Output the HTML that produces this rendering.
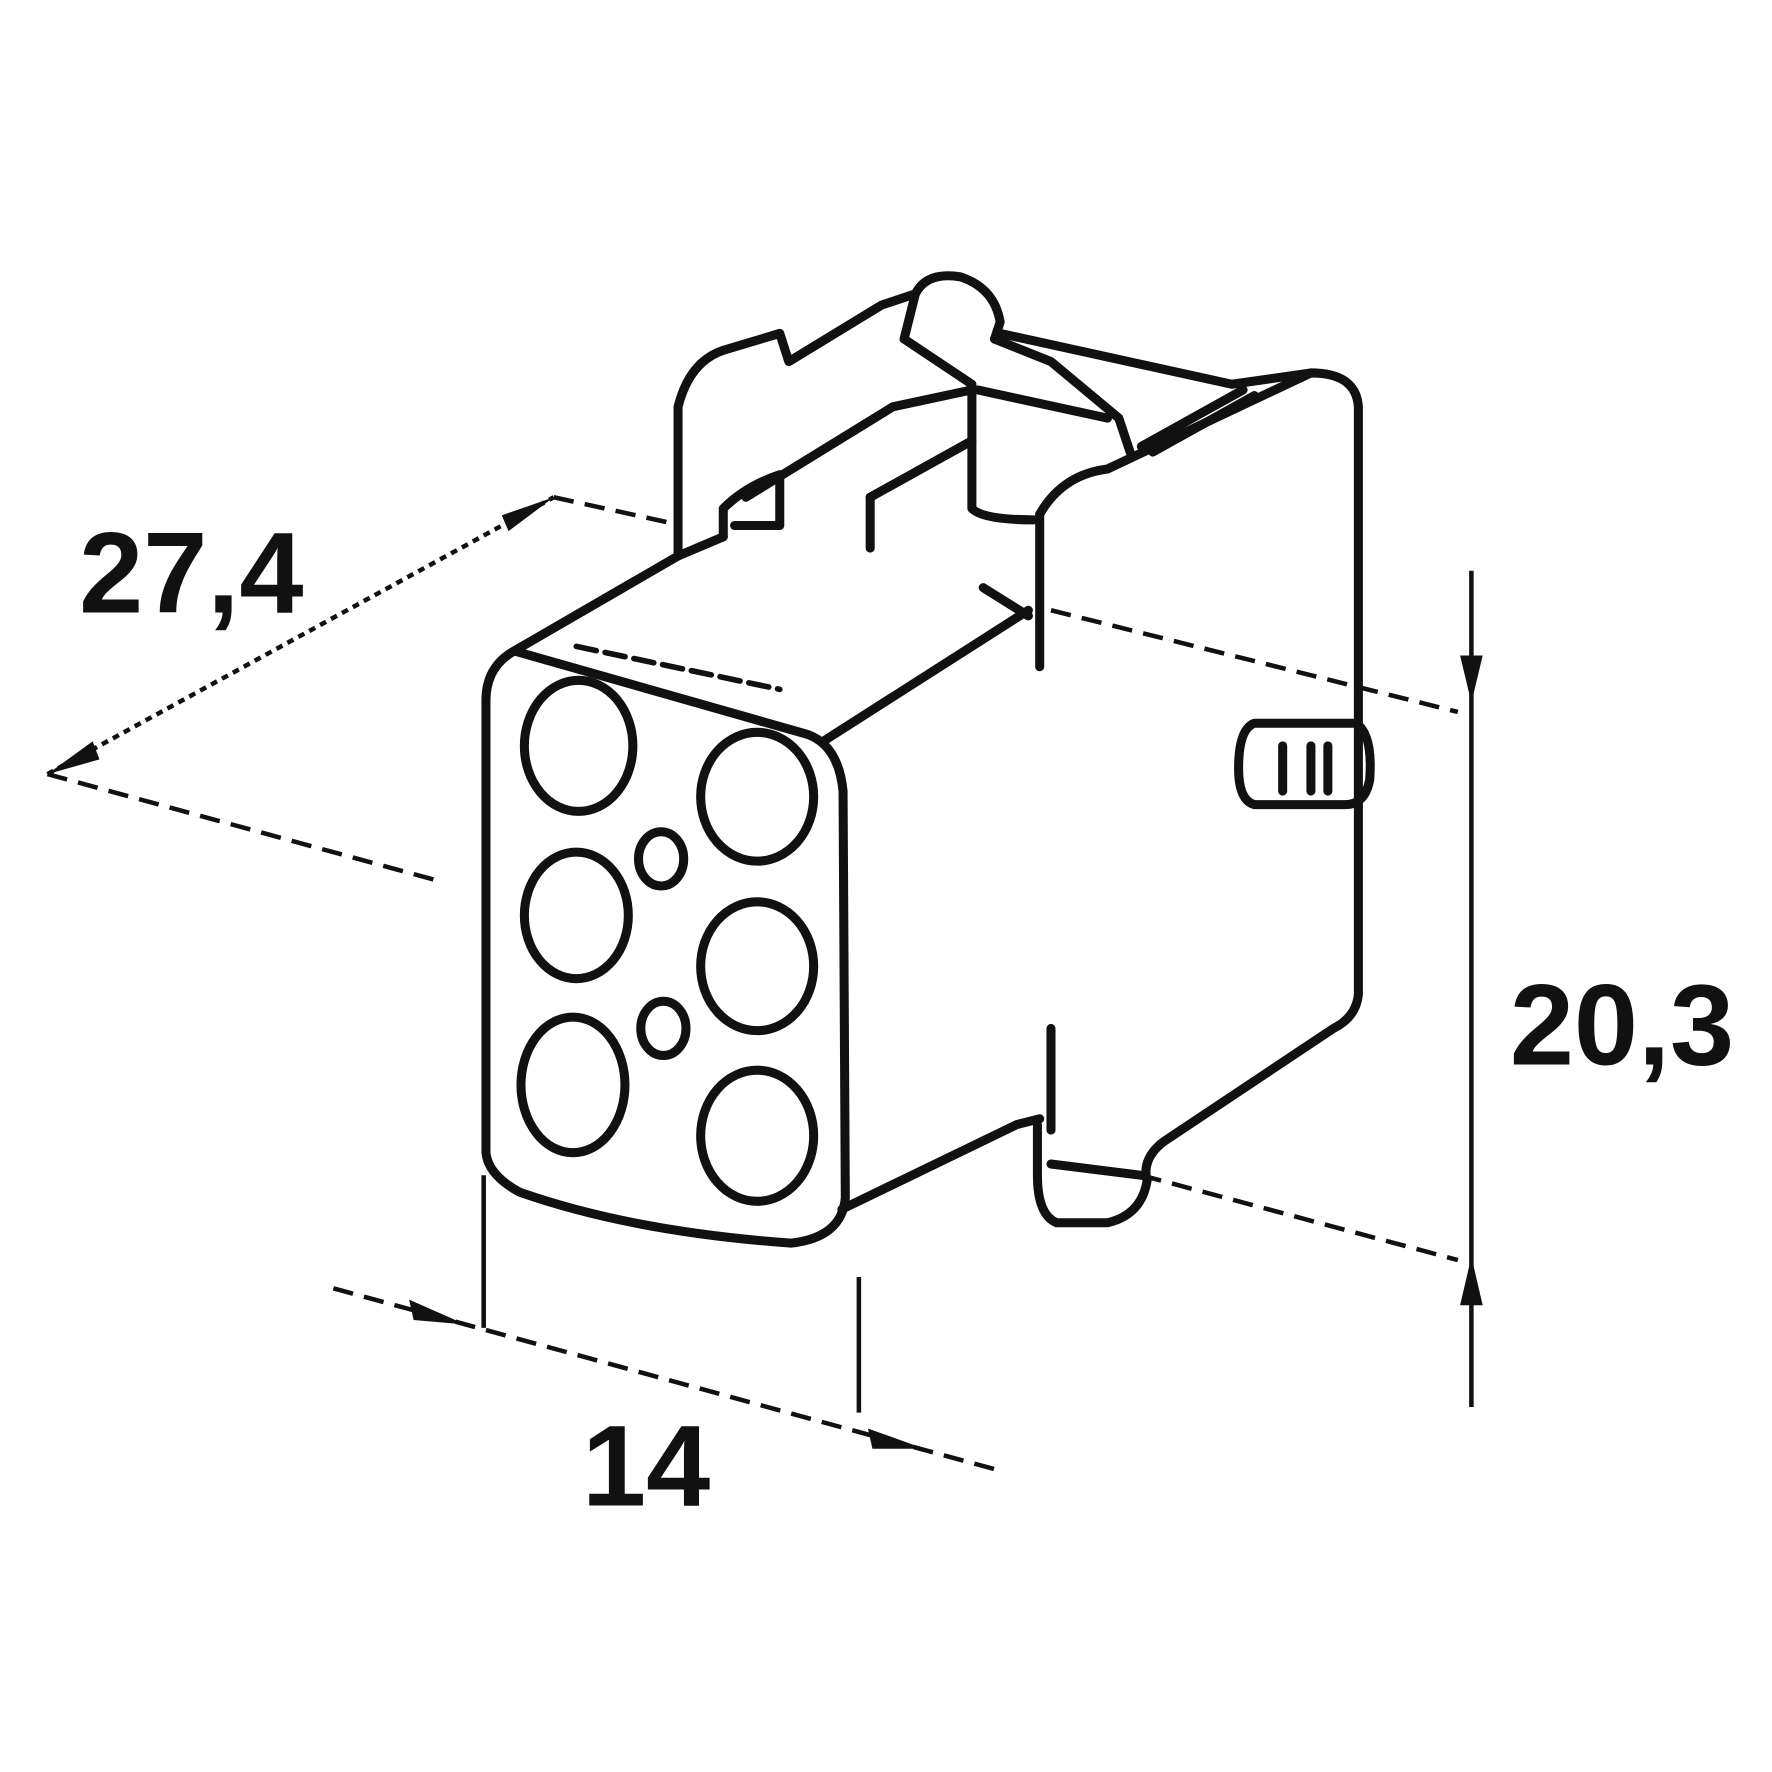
<!DOCTYPE html>
<html><head><meta charset="utf-8"><style>html,body{margin:0;padding:0;background:#fff}svg{display:block}</style></head>
<body>
<svg width="1772" height="1772" viewBox="0 0 1568 1568" xmlns="http://www.w3.org/2000/svg">
<g fill="none" stroke="#111" stroke-width="8" stroke-linejoin="round" stroke-linecap="round">
<path d="M455,576 Q430,590 430,620 L430,1020 Q432,1040 460,1055 Q560,1090 700,1100 Q745,1095 748,1060 L746,700 Q742,660 715,650 Z"/>
<path d="M455,576 L600,492 L640,475"/>
<path d="M730,655 L910,540"/>
<path d="M510,572 L690,610" stroke-dasharray="18 8" stroke-width="5"/>
<path d="M745,1070 L900,995 L920,990"/>
<path d="M920,455 Q940,420 980,415 L1160,330 Q1200,330 1202,360 L1202,880 Q1200,900 1180,910 L1030,1010 Q1010,1025 1015,1045 Q1010,1075 980,1082 L935,1082 Q918,1075 918,1040 L918,995"/>
<path d="M920,455 L920,590"/>
<path d="M930,910 L930,1000"/>
<path d="M930,1030 L1010,1040"/>
<path d="M600,492 L600,360 Q610,320 640,310 L690,295 L698,320 L780,270 L810,260 Q820,240 850,245 Q880,255 885,285 L880,300"/>
<path d="M640,475 L640,450 Q660,430 690,420 L690,465 L650,465"/>
<path d="M660,440 L790,360 L860,345 L860,450 Q870,460 915,460"/>
<path d="M810,260 L800,300 L860,340"/>
<path d="M885,295 L1090,340 L1160,330"/>
<path d="M880,300 L930,320 L990,370 L1000,400"/>
<path d="M865,345 L980,370"/>
<path d="M770,440 L860,390"/>
<path d="M770,440 L770,485"/>
<path d="M1010,395 L1100,345 M1020,400 L1110,350"/>
<path d="M870,520 L910,545"/>
<path d="M1110,640 L1200,640 Q1215,650 1212,690 Q1208,712 1190,712 L1110,712 Q1096,708 1096,680 Q1096,645 1110,640 Z"/>
<path d="M1135,660 L1135,700 M1160,660 L1160,700 M1175,660 L1175,700"/>
<ellipse cx="512" cy="660" rx="48" ry="58"/>
<ellipse cx="670" cy="705" rx="50" ry="57"/>
<ellipse cx="510" cy="810" rx="46" ry="56"/>
<ellipse cx="670" cy="855" rx="50" ry="57"/>
<ellipse cx="507" cy="960" rx="46" ry="60"/>
<ellipse cx="670" cy="1005" rx="50" ry="58"/>
<ellipse cx="585" cy="760" rx="20" ry="24"/>
<ellipse cx="587" cy="910" rx="20" ry="24"/>
</g>
<g fill="none" stroke="#111" stroke-width="4">
<path d="M42,685 L490,440" stroke-dasharray="6 5"/>
<path d="M42,685 L390,780" stroke-dasharray="18 10"/>
<path d="M490,440 L590,462" stroke-dasharray="18 10"/>
<path d="M930,540 L1290,630" stroke-dasharray="18 10"/>
<path d="M1010,1040 L1290,1115" stroke-dasharray="18 10"/>
<path d="M1302,505 L1302,1245"/>
<path d="M295,1140 L880,1300" stroke-dasharray="18 10"/>
<path d="M428,1040 L428,1175"/>
<path d="M760,1130 L760,1250"/>
</g>
<g fill="#111">
<polygon points="42,685 82,656 88,672"/>
<polygon points="490,440 450,470 444,456"/>
<polygon points="1302,622 1292,580 1312,580"/>
<polygon points="1302,1112 1292,1155 1312,1155"/>
<polygon points="412,1172 362,1150 366,1168"/>
<polygon points="818,1282 768,1264 772,1282"/>
</g>
<g font-family="Liberation Sans, sans-serif" font-size="102" font-weight="bold" fill="#111">
<text x="70" y="542">27,4</text>
<text x="1336" y="942">20,3</text>
<text x="515" y="1332">14</text>
</g>
</svg>
</body></html>
